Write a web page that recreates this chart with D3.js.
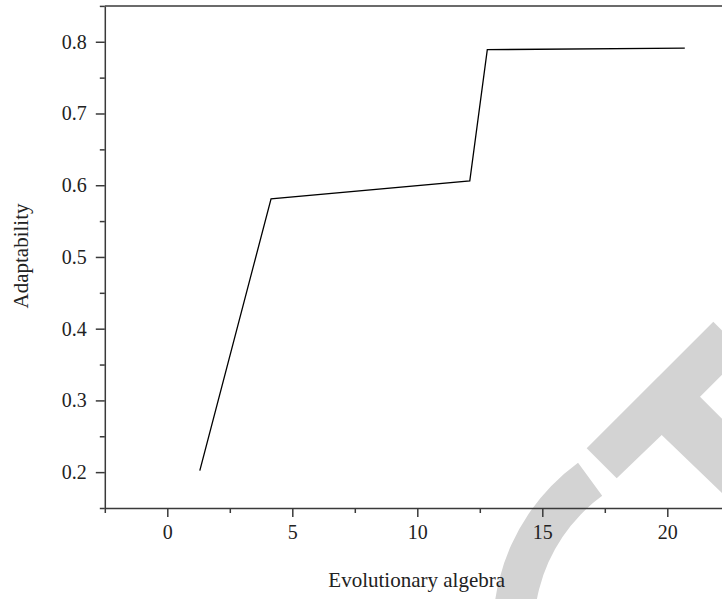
<!DOCTYPE html>
<html>
<head>
<meta charset="utf-8">
<script src="https://cdn.jsdelivr.net/npm/d3@7"></script>
<style>
  body { margin: 0; background: #fff; }
  svg { display: block; }
</style>
</head>
<body>
<div id="grafico"></div>
<script>
// Dados (geração = eixo x, adaptabilidade = eixo y)
const GERACAO = [1.3, 4.15, 12.1, 12.8, 20.7]
const ADAPTABILIDADE = [0.202, 0.581, 0.606, 0.789, 0.791]

const X_TICKS = [0, 5, 10, 15, 20]
const X_MINOR = [-2.5, 2.5, 7.5, 12.5, 17.5, 22.5]
const Y_TICKS = [0.2, 0.3, 0.4, 0.5, 0.6, 0.7, 0.8]
const Y_MINOR = [0.15, 0.25, 0.35, 0.45, 0.55, 0.65, 0.75, 0.85]

const X_TITLE = 'Evolutionary algebra'
const Y_TITLE = 'Adaptability'

// Caracteristicas do gráfico
const WIDTH = 722
const HEIGHT = 599
const PLOT = { left: 104.8, right: 729.8, top: 5.9, bottom: 508 }
const FONT = '"Liberation Serif", "Times New Roman", serif'
const AXIS_COLOR = '#3a3a3a'

const svg = d3.select('#grafico')
  .append('svg')
  .attr('width', WIDTH)
  .attr('height', HEIGHT)

const x = d3.scaleLinear()
  .domain([-2.5, 22.5])
  .range([PLOT.left, PLOT.right])

const y = d3.scaleLinear()
  .domain([0.15, 0.85])
  .range([PLOT.bottom, PLOT.top])

// Marca de água cinzenta no canto inferior direito
const marca = svg.append('g').attr('fill', '#d3d3d3')
marca.append('path')
  .attr('transform', 'translate(700,630)')
  .attr('d', d3.arc()({ innerRadius: 166, outerRadius: 207, startAngle: -3.4, endAngle: -0.63 }))
marca.append('polygon')
  .attr('points', '586.7,448.3 713.3,321.7 722,330.4 722,374.7 700,396.7 722,418.7 722,493 661.7,435 616.7,478.3')

// Linha dos dados
const pontos = GERACAO.map((g, i) => [g, ADAPTABILIDADE[i]])
svg.append('path')
  .datum(pontos)
  .attr('fill', 'none')
  .attr('stroke', '#000')
  .attr('stroke-width', 1.3)
  .attr('d', d3.line().x(d => x(d[0])).y(d => y(d[1])))

const estiloEixo = (g) => {
  g.attr('font-family', FONT).attr('font-size', 20)
  g.selectAll('path, line').attr('stroke', AXIS_COLOR).attr('stroke-width', 1.5)
  g.selectAll('text').attr('fill', '#222')
}

// Eixo x
svg.append('g')
  .attr('transform', `translate(0,${PLOT.bottom})`)
  .call(d3.axisBottom(x).tickValues(X_MINOR).tickSize(5).tickSizeOuter(0).tickFormat(''))
  .call(estiloEixo)
svg.append('g')
  .attr('transform', `translate(0,${PLOT.bottom})`)
  .call(d3.axisBottom(x).tickValues(X_TICKS).tickSize(9).tickPadding(8).tickSizeOuter(0).tickFormat(d3.format('d')))
  .call(estiloEixo)
  .call(g => g.select('.domain').remove())

// Eixo y
svg.append('g')
  .attr('transform', `translate(${PLOT.left},0)`)
  .call(d3.axisLeft(y).tickValues(Y_MINOR).tickSize(5).tickSizeOuter(0).tickFormat(''))
  .call(estiloEixo)
svg.append('g')
  .attr('transform', `translate(${PLOT.left},0)`)
  .call(d3.axisLeft(y).tickValues(Y_TICKS).tickSize(9).tickPadding(9).tickSizeOuter(0).tickFormat(d3.format('.1f')))
  .call(estiloEixo)
  .call(g => g.select('.domain').remove())

// Borda superior (a direita fica fora da imagem)
svg.append('line')
  .attr('x1', x.range()[0]).attr('x2', x.range()[1])
  .attr('y1', y.range()[1]).attr('y2', y.range()[1])
  .attr('stroke', AXIS_COLOR)
  .attr('stroke-width', 1.5)

// Legendas dos eixos
svg.append('text')
  .attr('x', 416.7)
  .attr('y', 587)
  .attr('text-anchor', 'middle')
  .attr('font-family', FONT)
  .attr('font-size', 21)
  .attr('fill', '#222')
  .text(X_TITLE)

svg.append('text')
  .attr('text-anchor', 'middle')
  .attr('transform', 'translate(28,256) rotate(-90)')
  .attr('font-family', FONT)
  .attr('font-size', 21)
  .attr('fill', '#222')
  .text(Y_TITLE)
</script>
</body>
</html>
